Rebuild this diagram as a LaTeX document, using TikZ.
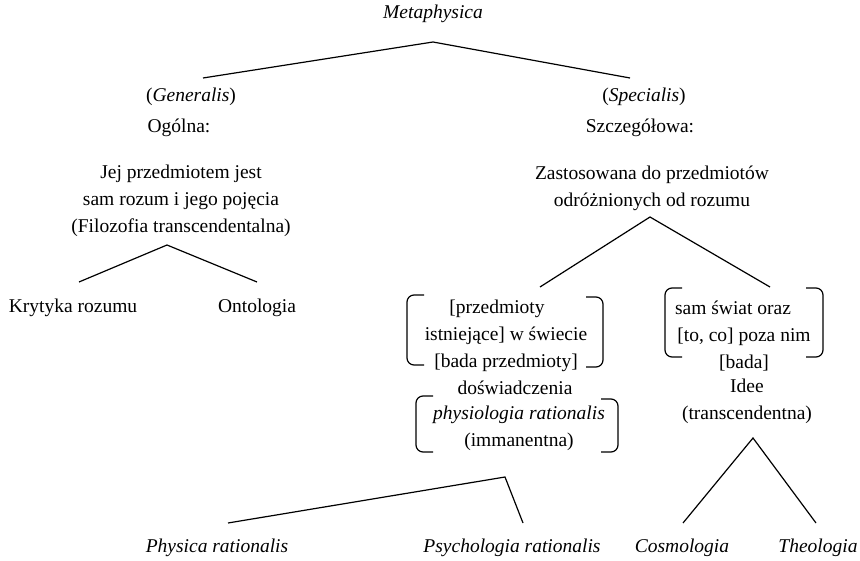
\documentclass[tikz,border=0pt]{standalone}
\usepackage{fontspec}
\setmainfont{Liberation Serif}
\tikzset{
    branch/.style={draw=black, line width=1.2pt},
    bracket/.style={draw=black, line width=1.2pt, rounded corners=7pt},
    txt/.style={inner sep=0pt, align=center, font=\fontsize{19.5}{27}\selectfont},
    term/.style={txt, font=\fontsize{19.5}{27}\selectfont\itshape},
}

\begin{document}
\begin{tikzpicture}[x=1pt,y=-1pt]
		\useasboundingbox (0,0) rectangle (860,561);
		% Top of the tree
		\node[term] (meta) at (433,14) {Metaphysica};
		\coordinate (metatop) at (433,42);
		\coordinate (genend) at (203,78);
		\coordinate (specend) at (630,78);
		\draw[branch] (genend) -- (metatop) -- (specend);
		% The general branch
		\node[txt] (gen) at (191,97) {(\textit{Generalis})};
		\node[txt] (ogolna) at (179,128) {Ogólna:};
		\node[txt] (rozum) at (181,201) {Jej przedmiotem jest\\sam rozum i jego pojęcia\\(Filozofia transcendentalna)};
		\coordinate (rozumtop) at (167,245);
		\coordinate (krytend) at (79,282);
		\coordinate (ontoend) at (257,282);
		\draw[branch] (krytend) -- (rozumtop) -- (ontoend);
		\node[txt] (kryt) at (73,308) {Krytyka rozumu};
		\node[txt] (onto) at (257,308) {Ontologia};
		% The special branch
		\node[txt] (spec) at (644,97) {(\textit{Specialis})};
		\node[txt] (szczeg) at (640,128) {Szczegółowa:};
		\node[txt] (zastos) at (652,188) {Zastosowana do przedmiotów\\odróżnionych od rozumu};
		\coordinate (zastostop) at (650,217);
		\coordinate (immend) at (540,287);
		\coordinate (transend) at (770,287);
		\draw[branch] (immend) -- (zastostop) -- (transend);
		% Objects in the world
		\node[txt] (swiecie) at (506,336) {{[}przedmioty\hspace*{18pt}\\istniejące{]} w świecie\\{[}bada przedmioty{]}};
		\draw[bracket] (424,295) -- (407,295) -- (407,365) -- (424,365);
		\draw[bracket] (586,297) -- (603,297) -- (603,367) -- (586,367);
		\node[txt] (dosw) at (515,388) {doświadczenia};
		\node[txt] (immanent) at (519,428) {\textit{physiologia rationalis}\\(immanentna)};
		\draw[bracket] (433,396) -- (416,396) -- (416,452) -- (433,452);
		\draw[bracket] (601,399) -- (618,399) -- (618,452) -- (601,452);
		% Beyond the world
		\node[txt] (poza) at (744,336) {sam świat oraz\hspace*{22pt}\\{[}to, co{]} poza nim\\{[}bada{]}};
		\draw[bracket] (682,288) -- (665,288) -- (665,357) -- (682,357);
		\draw[bracket] (806,288) -- (823,288) -- (823,357) -- (806,357);
		\node[txt] (idee) at (747,401) {Idee\\(transcendentna)};
		% The lowest branches
		\coordinate (immtop) at (505,477);
		\coordinate (physend) at (228,523);
		\coordinate (psychend) at (523,523);
		\draw[branch] (physend) -- (immtop) -- (psychend);
		\coordinate (transtop) at (753,438);
		\coordinate (cosmend) at (683,523);
		\coordinate (theoend) at (816,523);
		\draw[branch] (cosmend) -- (transtop) -- (theoend);
		% Labels
		\node[term] (phys) at (217,548) {Physica rationalis};
		\node[term] (psych) at (512,548) {Psychologia rationalis};
		\node[term] (cosm) at (682,548) {Cosmologia};
		\node[term] (theo) at (818,548) {Theologia};
	\end{tikzpicture}
\end{document}
